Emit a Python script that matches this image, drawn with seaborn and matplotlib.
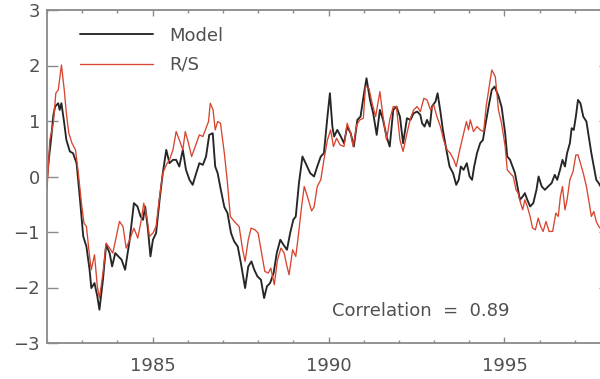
import matplotlib
matplotlib.use("Agg")
import matplotlib.pyplot as plt
import pandas as pd
import seaborn as sns
from matplotlib.ticker import MultipleLocator, FixedLocator

# ---------------- data ----------------
model_years = [
    1982.00, 1982.05, 1982.12, 1982.18, 1982.23, 1982.32, 1982.36, 1982.41, 1982.49, 1982.55,
    1982.65, 1982.74, 1982.84, 1982.93, 1983.03, 1983.12, 1983.21, 1983.26, 1983.35, 1983.43,
    1983.49, 1983.59, 1983.68, 1983.78, 1983.85, 1983.94, 1984.03, 1984.12, 1984.22, 1984.35,
    1984.47, 1984.57, 1984.66, 1984.73, 1984.79, 1984.87, 1984.94, 1985.01, 1985.10, 1985.20,
    1985.29, 1985.39, 1985.48, 1985.58, 1985.67, 1985.76, 1985.86, 1985.95, 1986.05, 1986.14,
    1986.24, 1986.33, 1986.43, 1986.52, 1986.61, 1986.71, 1986.78, 1986.85, 1986.94, 1987.04,
    1987.13, 1987.23, 1987.32, 1987.42, 1987.51, 1987.63, 1987.72, 1987.81, 1987.89, 1987.98,
    1988.08, 1988.17, 1988.25, 1988.34, 1988.44, 1988.53, 1988.63, 1988.72, 1988.82, 1988.91,
    1989.00, 1989.07, 1989.16, 1989.26, 1989.35, 1989.48, 1989.59, 1989.68, 1989.78, 1989.87,
    1989.97, 1990.04, 1990.11, 1990.16, 1990.25, 1990.35, 1990.44, 1990.53, 1990.63, 1990.72,
    1990.82, 1990.91, 1991.01, 1991.08, 1991.18, 1991.27, 1991.37, 1991.46, 1991.55, 1991.65,
    1991.74, 1991.84, 1991.93, 1992.03, 1992.12, 1992.23, 1992.33, 1992.42, 1992.52, 1992.61,
    1992.66, 1992.73, 1992.80, 1992.88, 1992.94, 1993.04, 1993.10, 1993.18, 1993.25, 1993.35,
    1993.44, 1993.54, 1993.63, 1993.70, 1993.76, 1993.84, 1993.93, 1994.01, 1994.08, 1994.14,
    1994.22, 1994.31, 1994.39, 1994.45, 1994.55, 1994.64, 1994.72, 1994.83, 1994.92, 1995.02,
    1995.08, 1995.16, 1995.23, 1995.30, 1995.37, 1995.44, 1995.52, 1995.58, 1995.65, 1995.73,
    1995.82, 1995.91, 1995.97, 1996.06, 1996.15, 1996.24, 1996.34, 1996.43, 1996.50, 1996.58,
    1996.65, 1996.72, 1996.78, 1996.86, 1996.91, 1996.97, 1997.03, 1997.09, 1997.16, 1997.24,
    1997.33, 1997.41, 1997.47, 1997.54, 1997.61, 1997.68, 1997.75,
]
model_values = [
    -0.05, 0.30, 0.70, 1.10, 1.26, 1.32, 1.20, 1.32, 0.96, 0.66,
    0.45, 0.42, 0.24, -0.36, -1.08, -1.26, -1.68, -2.01, -1.92, -2.16,
    -2.40, -1.86, -1.23, -1.38, -1.62, -1.38, -1.44, -1.50, -1.68, -1.14,
    -0.48, -0.54, -0.72, -0.78, -0.54, -0.96, -1.44, -1.14, -1.02, -0.42,
    0.06, 0.48, 0.24, 0.30, 0.30, 0.18, 0.48, 0.12, -0.06, -0.15,
    0.06, 0.24, 0.21, 0.36, 0.75, 0.78, 0.18, 0.06, -0.24, -0.55,
    -0.66, -1.02, -1.17, -1.26, -1.56, -2.01, -1.62, -1.53, -1.68, -1.80,
    -1.86, -2.19, -1.98, -1.92, -1.74, -1.38, -1.14, -1.23, -1.32, -1.02,
    -0.78, -0.72, -0.12, 0.36, 0.24, 0.06, 0.00, 0.18, 0.36, 0.42,
    1.08, 1.50, 0.90, 0.72, 0.84, 0.72, 0.60, 0.90, 0.78, 0.54,
    1.02, 1.08, 1.50, 1.77, 1.38, 1.14, 0.75, 1.20, 1.02, 0.72,
    0.54, 1.20, 1.26, 1.08, 0.60, 1.05, 1.02, 1.14, 1.17, 1.11,
    0.96, 0.90, 1.02, 0.90, 1.26, 1.35, 1.50, 1.17, 0.84, 0.48,
    0.18, 0.06, -0.15, -0.06, 0.18, 0.12, 0.24, 0.00, -0.06, 0.18,
    0.42, 0.60, 0.66, 0.90, 1.26, 1.56, 1.62, 1.45, 1.25, 0.78,
    0.36, 0.30, 0.18, 0.06, -0.18, -0.42, -0.36, -0.30, -0.42, -0.54,
    -0.48, -0.24, 0.00, -0.18, -0.24, -0.18, -0.12, 0.03, -0.06, 0.12,
    0.30, 0.18, 0.42, 0.60, 0.87, 0.84, 1.08, 1.38, 1.32, 1.08,
    0.99, 0.66, 0.42, 0.18, -0.06, -0.12, -0.20,
]

rs_years = [
    1982.00, 1982.08, 1982.18, 1982.25, 1982.32, 1982.41, 1982.49, 1982.55, 1982.62, 1982.71,
    1982.81, 1982.88, 1982.98, 1983.05, 1983.12, 1983.21, 1983.26, 1983.35, 1983.43, 1983.49,
    1983.59, 1983.68, 1983.78, 1983.87, 1983.97, 1984.06, 1984.16, 1984.25, 1984.35, 1984.47,
    1984.58, 1984.68, 1984.75, 1984.85, 1984.91, 1985.01, 1985.10, 1985.20, 1985.29, 1985.39,
    1985.48, 1985.58, 1985.67, 1985.76, 1985.86, 1985.93, 1986.02, 1986.11, 1986.21, 1986.33,
    1986.43, 1986.52, 1986.59, 1986.64, 1986.72, 1986.78, 1986.85, 1986.93, 1986.99, 1987.04,
    1987.12, 1987.21, 1987.32, 1987.46, 1987.56, 1987.63, 1987.72, 1987.80, 1987.91, 1988.00,
    1988.10, 1988.19, 1988.29, 1988.36, 1988.46, 1988.55, 1988.65, 1988.74, 1988.82, 1988.88,
    1988.98, 1989.07, 1989.14, 1989.23, 1989.31, 1989.40, 1989.52, 1989.59, 1989.68, 1989.78,
    1989.87, 1989.97, 1990.06, 1990.14, 1990.23, 1990.33, 1990.44, 1990.53, 1990.63, 1990.70,
    1990.80, 1990.89, 1990.99, 1991.05, 1991.15, 1991.24, 1991.34, 1991.46, 1991.55, 1991.65,
    1991.74, 1991.84, 1991.93, 1992.03, 1992.12, 1992.23, 1992.33, 1992.42, 1992.52, 1992.61,
    1992.71, 1992.80, 1992.90, 1992.99, 1993.08, 1993.18, 1993.27, 1993.37, 1993.46, 1993.56,
    1993.63, 1993.73, 1993.82, 1993.92, 1993.98, 1994.03, 1994.12, 1994.22, 1994.31, 1994.41,
    1994.48, 1994.58, 1994.64, 1994.74, 1994.83, 1994.92, 1995.02, 1995.08, 1995.16, 1995.25,
    1995.33, 1995.39, 1995.46, 1995.52, 1995.58, 1995.65, 1995.73, 1995.80, 1995.88, 1995.96,
    1996.03, 1996.10, 1996.18, 1996.27, 1996.37, 1996.46, 1996.53, 1996.59, 1996.65, 1996.72,
    1996.78, 1996.86, 1996.95, 1997.03, 1997.09, 1997.16, 1997.24, 1997.33, 1997.41, 1997.47,
    1997.54, 1997.61, 1997.68, 1997.75,
]
rs_values = [
    -0.24, 0.66, 0.96, 1.50, 1.56, 2.01, 1.56, 1.14, 0.78, 0.60,
    0.48, 0.12, -0.48, -0.84, -0.90, -1.44, -1.68, -1.41, -1.98, -2.19,
    -1.74, -1.20, -1.29, -1.38, -1.08, -0.81, -0.90, -1.29, -1.14, -0.93,
    -1.11, -0.78, -0.48, -0.78, -1.08, -1.02, -0.90, -0.36, 0.06, 0.21,
    0.30, 0.48, 0.81, 0.66, 0.48, 0.81, 0.60, 0.36, 0.54, 0.75,
    0.72, 0.87, 0.99, 1.32, 1.20, 0.84, 0.99, 0.96, 0.66, 0.42,
    -0.06, -0.72, -0.81, -0.90, -1.32, -1.53, -1.14, -0.93, -0.96, -1.02,
    -1.38, -1.71, -1.74, -1.65, -1.95, -1.50, -1.29, -1.38, -1.62, -1.77,
    -1.32, -1.44, -1.08, -0.57, -0.18, -0.36, -0.62, -0.55, -0.18, -0.06,
    0.30, 0.66, 0.84, 0.54, 0.69, 0.57, 0.54, 0.96, 0.78, 0.54,
    0.93, 1.02, 1.05, 1.62, 1.59, 1.32, 1.08, 1.53, 1.08, 0.66,
    1.02, 1.26, 1.26, 0.66, 0.45, 0.78, 1.05, 1.20, 1.26, 1.17,
    1.41, 1.38, 1.20, 1.29, 1.08, 0.90, 0.66, 0.48, 0.42, 0.30,
    0.18, 0.48, 0.72, 0.99, 0.84, 1.02, 0.81, 0.90, 0.84, 0.81,
    1.26, 1.68, 1.92, 1.80, 1.20, 0.95, 0.54, 0.12, 0.06, 0.00,
    -0.24, -0.30, -0.48, -0.60, -0.42, -0.54, -0.72, -0.93, -0.96, -0.75,
    -0.90, -0.99, -0.81, -0.99, -0.99, -0.66, -0.72, -0.36, -0.18, -0.60,
    -0.42, -0.06, 0.09, 0.39, 0.39, 0.24, 0.06, -0.18, -0.48, -0.72,
    -0.63, -0.81, -0.90, -0.95,
]

series_labels = ["Model", "R/S"]
x_major_ticks = [1985, 1990, 1995]
y_major_ticks = [-3, -2, -1, 0, 1, 2, 3]
correlation_text = "Correlation  =  0.89"

# ---------------- styling ----------------
sns.set_style("white")
plt.rcParams["font.family"] = ["DejaVu Sans"]
text_color = "#505050"
axis_color = "#8a8a8a"
fs = 13

fig = plt.figure(figsize=(6.0, 3.79), dpi=100)
ax = fig.add_axes([47 / 600, 36 / 379, 563 / 600, 333 / 379])

sns.lineplot(x=model_years, y=model_values, ax=ax, color="#262626",
             linewidth=1.35, label=series_labels[0], estimator=None, sort=False)
sns.lineplot(x=rs_years, y=rs_values, ax=ax, color="#d8452f",
             linewidth=0.95, label=series_labels[1], estimator=None, sort=False)

ax.set_xlim(1982, 1998)
ax.set_ylim(-3, 3)
ax.xaxis.set_major_locator(FixedLocator(x_major_ticks))
ax.xaxis.set_minor_locator(MultipleLocator(1))
ax.yaxis.set_major_locator(FixedLocator(y_major_ticks))
ax.set_xlabel("")
ax.set_ylabel("")

for s in ax.spines.values():
    s.set_visible(True)
    s.set_color(axis_color)
    s.set_linewidth(1.3)

ax.tick_params(axis="x", which="major", direction="in", length=4, width=1.0,
               top=True, bottom=True, color=axis_color, labelsize=fs,
               labelcolor=text_color, pad=10)
ax.tick_params(axis="x", which="minor", direction="in", length=2.2, width=1.0,
               top=True, bottom=True, color=axis_color)
ax.tick_params(axis="y", which="major", direction="in", length=8, width=1.0,
               left=True, right=True, color=axis_color, labelsize=fs,
               labelcolor=text_color, pad=5)

leg = ax.legend(loc="upper left", bbox_to_anchor=(0.0586, 0.950), frameon=False,
                handlelength=4.05, handletextpad=0.9, labelspacing=0.62,
                borderpad=0, borderaxespad=0, fontsize=fs, labelcolor=text_color)

ax.text(1992.63, -2.42, correlation_text, ha="center", va="center",
        fontsize=fs, color=text_color)

fig.savefig("out.png", dpi=100)
